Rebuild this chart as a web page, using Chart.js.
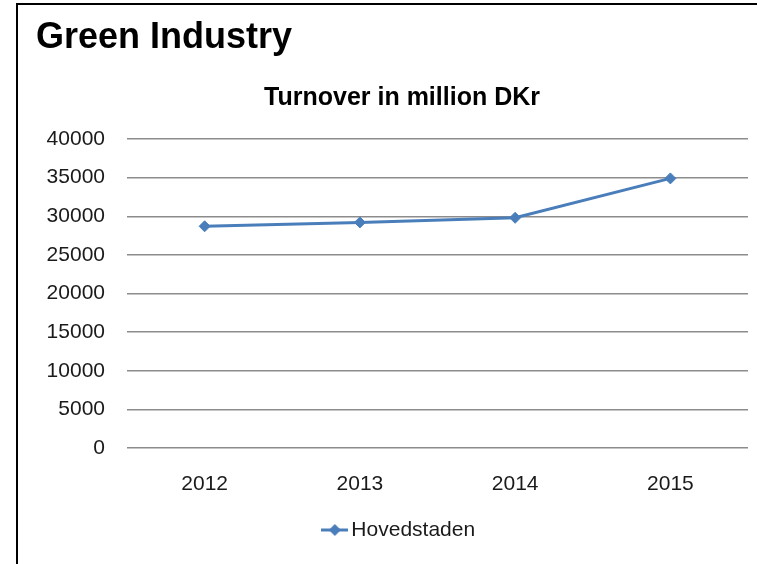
<!DOCTYPE html>
<html>
<head>
<meta charset="utf-8">
<script src="https://cdn.jsdelivr.net/npm/chart.js@4/dist/chart.umd.min.js"></script>
<style>
  html, body { margin: 0; padding: 0; background: #fff; overflow: hidden; width: 757px; height: 564px; }
  #wrap { position: relative; width: 768px; height: 564px; }
  #frame { position: absolute; left: 16px; top: 3px; width: 800px; height: 600px;
           border-left: 2px solid #000; border-top: 2px solid #000; pointer-events: none; }
  canvas { position: absolute; left: 0; top: 0; }
</style>
</head>
<body>
<div id="wrap">
  <canvas id="c" width="768" height="564"></canvas>
  <div id="frame"></div>
</div>
<script>
const chartTitle = 'Green Industry';
const chartSubtitle = 'Turnover in million DKr';
const categories = ['2012', '2013', '2014', '2015'];
const seriesName = 'Hovedstaden';
const seriesValues = [28700, 29200, 29800, 34900];
const yTicks = [0, 5000, 10000, 15000, 20000, 25000, 30000, 35000, 40000];

const lineColor = '#4a7ebb';
const FONT = "'Liberation Sans', Arial, sans-serif";

// legend icon: line with a diamond marker
const icon = document.createElement('canvas');
icon.width = 27; icon.height = 14;
(function () {
  const g = icon.getContext('2d');
  g.strokeStyle = lineColor; g.lineWidth = 3;
  g.beginPath(); g.moveTo(0, 7); g.lineTo(27, 7); g.stroke();
  g.fillStyle = lineColor;
  g.beginPath(); g.moveTo(13.5, 1); g.lineTo(19.5, 7); g.lineTo(13.5, 13); g.lineTo(7.5, 7); g.closePath(); g.fill();
})();

new Chart(document.getElementById('c'), {
  type: 'line',
  data: {
    labels: categories,
    datasets: [{
      label: seriesName,
      data: seriesValues,
      borderColor: lineColor,
      backgroundColor: lineColor,
      borderWidth: 3,
      tension: 0,
      pointStyle: 'rectRot',
      pointRadius: 5.5,
      pointBorderWidth: 1,
      pointBackgroundColor: lineColor,
      pointBorderColor: lineColor,
      fill: false
    }]
  },
  options: {
    responsive: false,
    animation: false,
    devicePixelRatio: 1,
    layout: { padding: { left: 36, right: 0, top: 3, bottom: 13.5 } },
    plugins: {
      title: {
        display: true, text: chartTitle, align: 'start', color: '#000',
        font: { family: FONT, size: 36, weight: 'bold', lineHeight: 1.2 },
        padding: { top: 13.4, bottom: 0 }
      },
      subtitle: {
        display: true, text: chartSubtitle, align: 'center', color: '#000',
        font: { family: FONT, size: 25, weight: 'bold', lineHeight: 1.2 },
        padding: { top: 23.7, bottom: 25.7 }
      },
      legend: {
        display: true, position: 'bottom', align: 'center',
        labels: {
          color: '#1a1a1a',
          font: { family: FONT, size: 21 },
          padding: 22.9,
          usePointStyle: true,
          pointStyleWidth: 12,
          generateLabels: (chart) => chart.data.datasets.map((ds, i) => ({
            text: ds.label, pointStyle: icon, fillStyle: lineColor, strokeStyle: lineColor,
            lineWidth: 0, hidden: false, datasetIndex: i, fontColor: '#1a1a1a'
          }))
        }
      },
      tooltip: { enabled: false }
    },
    scales: {
      x: {
        type: 'category',
        offset: true,
        grid: { display: false, drawTicks: false },
        border: { display: false },
        ticks: { color: '#1a1a1a', padding: 23.4, maxRotation: 0, font: { family: FONT, size: 21, lineHeight: 1.2 } },
        afterFit: (s) => { s.height = 48.6; }
      },
      y: {
        type: 'linear',
        min: 0, max: 40000,
        afterBuildTicks: (s) => { s.ticks = yTicks.map(v => ({ value: v })); },
        grid: { color: '#8c8c8c', lineWidth: 1.5, drawTicks: false },
        border: { display: false },
        ticks: {
          color: '#1a1a1a', padding: 22,
          font: { family: FONT, size: 21, lineHeight: 1.2 },
          callback: (v) => String(v)
        },
        afterFit: (s) => { s.width = 91; }
      },
      rightSpace: {
        type: 'linear', position: 'right', display: true,
        grid: { display: false, drawTicks: false },
        border: { display: false },
        ticks: { display: false },
        afterFit: (s) => { s.width = 20; }
      }
    }
  }
});
</script>
</body>
</html>
